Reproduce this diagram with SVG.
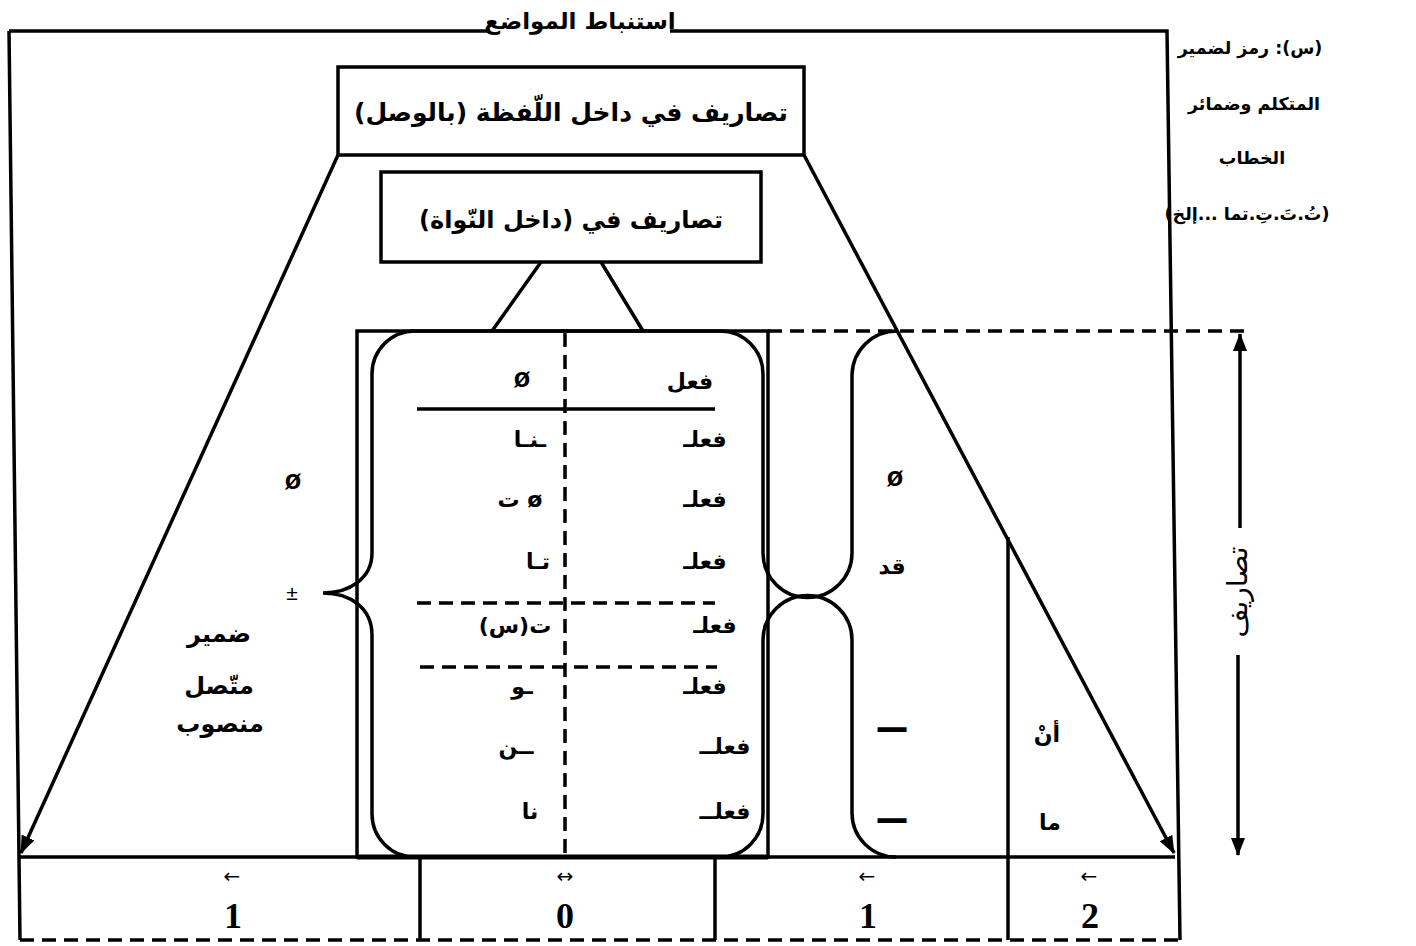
<svg xmlns="http://www.w3.org/2000/svg" width="1416" height="946" viewBox="0 0 1416 946">
<style>
.ln{fill:none;stroke:#000;stroke-width:3.5}
.dash{fill:none;stroke:#000;stroke-width:3.5;stroke-dasharray:14 8}
.ar{font-family:"DejaVu Sans",sans-serif;font-weight:bold;font-size:22px;fill:#000;text-anchor:middle;direction:rtl}
.sym{font-family:"Liberation Sans",sans-serif;font-weight:bold;font-size:27px;fill:#000;text-anchor:middle}
.num{font-family:"Liberation Serif",serif;font-weight:bold;font-size:36px;fill:#000;text-anchor:middle}
.sarr{font-family:"DejaVu Sans",sans-serif;font-size:20px;fill:#000;text-anchor:middle}
.leg{font-size:17.5px}
</style>
<defs>
<marker id="arr" markerUnits="userSpaceOnUse" markerWidth="18" markerHeight="14" viewBox="0 0 18 14" refX="17" refY="7" orient="auto"><path d="M0,0 L18,7 L0,14 z" fill="#000"/></marker>
</defs>
<rect width="1416" height="946" fill="#fff"/>

<g id="frame">
<path class="ln" d="M9,31 H490 M670,31 H1167 L1180,940 M9,31 L20,940"/>
<path class="dash" d="M20,940 H1180"/>
<path class="ln" d="M420,857 V940 M715,857 V940 M1008,537 V940"/>
<path class="ln" d="M20,857 H1175"/>
<text class="ar" x="580" y="29" style="font-size:23px">استنباط المواضع</text>
</g>

<g id="box-lafza">
<rect class="ln" x="338" y="67" width="466" height="88"/>
<text class="ar" x="571" y="121" style="font-size:25px">تصاريف في داخل اللّفظة (بالوصل)</text>
</g>

<g id="box-nawat">
<rect class="ln" x="381" y="172" width="380" height="90"/>
<text class="ar" x="571" y="228" style="font-size:24px">تصاريف في (داخل النّواة)</text>
</g>

<g id="connectors">
<path class="ln" d="M338,155 L21,853" marker-end="url(#arr)"/>
<path class="ln" d="M804,155 L1174,853" marker-end="url(#arr)"/>
<path class="ln" d="M541,262 L492,331 M601,262 L643,331"/>
<path class="ln" d="M1240,528 V334" marker-end="url(#arr)"/>
<path class="ln" d="M1238,655 V855" marker-end="url(#arr)"/>
</g>

<g id="table">
<rect class="ln" x="357" y="331" width="411" height="526"/>
<path d="M357,857 H768" stroke="#000" stroke-width="5"/>
<path class="ln" d="M763,553 V374 A43,43 0 0 0 720,331 H415 A43,43 0 0 0 372,374 V553 C372,578 350,593 323,593 C350,593 372,608 372,635 V814 A43,43 0 0 0 415,857 H720 A43,43 0 0 0 763,814 V640"/>
<path class="dash" d="M565,333 V855"/>
<path class="ln" d="M417,409 H715"/>
<path class="dash" d="M417,603 H715 M420,667 H717"/>
<text class="ar" x="690" y="389">فعل</text>
<text class="sym" x="522" y="387">ø</text>
<text class="ar" x="705" y="447">فعلـ</text>
<text class="ar" x="530" y="447">ـنـا</text>
<text class="ar" x="705" y="507">فعلـ</text>
<text class="ar" x="520" y="507">ø ت</text>
<text class="ar" x="538" y="569">تـا</text>
<text class="ar" x="705" y="569">فعلـ</text>
<text class="ar" x="715" y="633">فعلـ</text>
<text class="ar" x="515" y="633">ت(س)</text>
<text class="ar" x="705" y="694">فعلـ</text>
<text class="ar" x="522" y="694">ـو</text>
<text class="ar" x="725" y="754">فعلــ</text>
<text class="ar" x="516" y="754">ــن</text>
<text class="ar" x="725" y="819">فعلــ</text>
<text class="ar" x="530" y="819">نا</text>
</g>

<g id="col-qad">
<path class="ln" d="M763,553 A44.5,44.5 0 0 0 852,553 V375 A45,45 0 0 1 897,331"/>
<path class="ln" d="M763,640 A44.5,44.5 0 0 1 852,640 V813 A44,44 0 0 0 896,857"/>
<path class="dash" d="M768,331 H1245"/>
<text class="sym" x="895" y="486">ø</text>
<text class="ar" x="892" y="574">قد</text>
<text class="sym" x="892" y="737" style="stroke:#000;stroke-width:2">—</text>
<text class="sym" x="892" y="828" style="stroke:#000;stroke-width:2">—</text>
</g>

<g id="col-an">
<text class="ar" x="1047" y="742">أنْ</text>
<text class="ar" x="1050" y="830">ما</text>
</g>

<g id="left-labels">
<text class="sym" x="293" y="489">ø</text>
<text class="sym" x="292" y="600" style="font-size:21px;font-weight:normal">±</text>
<text class="ar" x="219" y="642" style="font-size:24px">ضمير</text>
<text class="ar" x="219" y="694" style="font-size:24px">متّصل</text>
<text class="ar" x="220" y="732" style="font-size:24px">منصوب</text>
</g>

<g id="axis">
<text class="ar" transform="translate(1247,592) rotate(-90)" style="font-size:28px;font-weight:normal">تصاريف</text>
</g>

<g id="legend">
<text class="ar leg" x="1250" y="54">(س): رمز لضمير</text>
<text class="ar leg" x="1254" y="110">المتكلم وضمائر</text>
<text class="ar leg" x="1252" y="164">الخطاب</text>
<text class="ar leg" x="1247" y="220">(تُ.تَ.تِ.تما ...إلخ)</text>
</g>

<g id="scale">
<text class="num" x="233" y="928">1</text>
<text class="sarr" x="232" y="883">←</text>
<text class="num" x="565" y="928">0</text>
<text class="sarr" x="565" y="883">↔</text>
<text class="num" x="868" y="928">1</text>
<text class="sarr" x="867" y="883">←</text>
<text class="num" x="1090" y="928">2</text>
<text class="sarr" x="1089" y="883">←</text>
</g>
</svg>
